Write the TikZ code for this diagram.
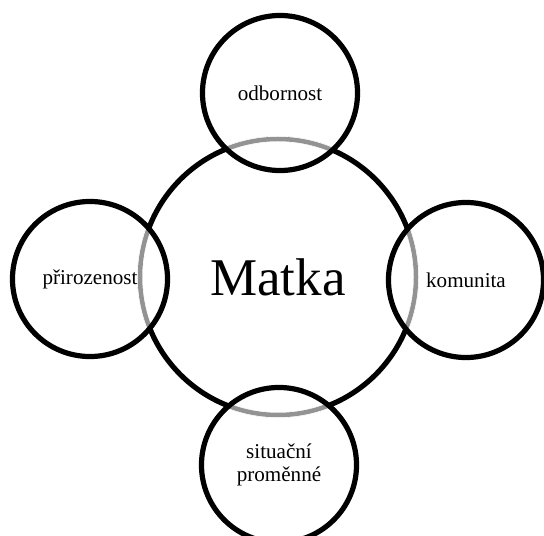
\documentclass[tikz,border=0pt]{standalone}
\usepackage{fontspec}
\setmainfont{Liberation Serif}

\begin{document}
\begin{tikzpicture}[x=0.025cm,y=-0.025cm]
            \tikzset{
              ring/.style={draw=black, line width=3.7pt, circle, inner sep=0pt},
              hub/.style={ring, minimum size=6.9cm, font=\fontsize{37.7}{40}\selectfont},
              sat/.style={ring, minimum size=3.875cm, align=center, font=\fontsize{15}{16.5}\selectfont},
              overlap/.style={draw=gray!85, line width=3.2pt}
            }
            \useasboundingbox (0,0) rectangle (544,536);
            % centre
            \node[hub] (matka) at (278,277) {Matka};
            % grey parts of the centre ring inside the outer rings
            \foreach \cx/\cy in {280/93, 90/279, 466/280, 279/465} {
              \begin{scope}
                \clip (\cx,\cy) circle (77);
                \draw[white, line width=4.4pt] (matka.center) circle (138);
                \draw[overlap] (matka.center) circle (138);
              \end{scope}
            }
            % outer rings
            \node[sat] (odbornost) at (280,93) {odbornost};
            \node[sat] (prirozenost) at (90,279) {přirozenost};
            \node[sat] (komunita) at (466,280) {komunita};
            \node[sat] (situace) at (279,465) {situační\\proměnné};
\end{tikzpicture}
\end{document}
